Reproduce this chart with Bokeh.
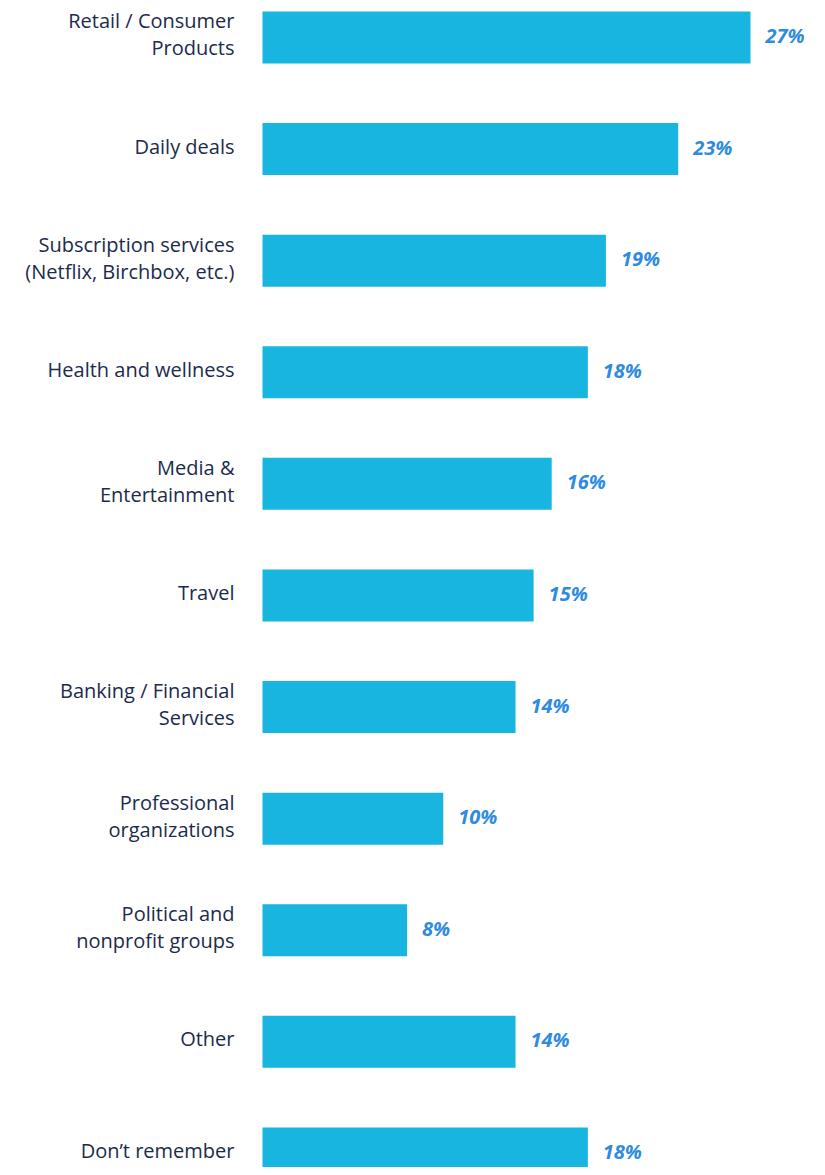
from bokeh.plotting import figure
from bokeh.models import ColumnDataSource, Range1d
from bokeh.core.properties import value
from bokeh.embed import file_html
from bokeh.resources import INLINE

categories = [
    "Retail / Consumer\nProducts",
    "Daily deals",
    "Subscription services\n(Netflix, Birchbox, etc.)",
    "Health and wellness",
    "Media &\nEntertainment",
    "Travel",
    "Banking / Financial\nServices",
    "Professional\norganizations",
    "Political and\nnonprofit groups",
    "Other",
    "Don\u2019t remember",
]
values = [27, 23, 19, 18, 16, 15, 14, 10, 8, 14, 18]
value_labels = [f"{v}%" for v in values]

pos = list(range(len(categories)))
src = ColumnDataSource(dict(y=pos, v=values, cat=categories, lab=value_labels, zero=[0] * len(values)))

p = figure(width=817, height=1167, output_backend="svg", toolbar_location=None,
           x_range=Range1d(-14.496, 30.707), y_range=Range1d(10.126, -0.3315),
           min_border=0)
p.axis.visible = False
p.grid.visible = False
p.outline_line_color = None
p.background_fill_color = "white"
p.border_fill_color = "white"

p.hbar(y="y", left="zero", right="v", height=0.466, source=src,
       fill_color="#17B5DF", line_color=None)

p.text(x="zero", y="y", text="cat", source=src, x_offset=-28, y_offset=-3,
       text_align="right", text_baseline="middle",
       text_font=value("Open Sans"), text_font_size="20px",
       text_color="#1C2B4B", text_line_height=1.0)

p.text(x="v", y="y", text="lab", source=src, x_offset=15, y_offset=-2,
       text_align="left", text_baseline="middle",
       text_font=value("Open Sans"), text_font_size="20px",
       text_font_style="bold italic", text_color="#2E8BE0")

open("out.html", "w").write(file_html(p, INLINE))
